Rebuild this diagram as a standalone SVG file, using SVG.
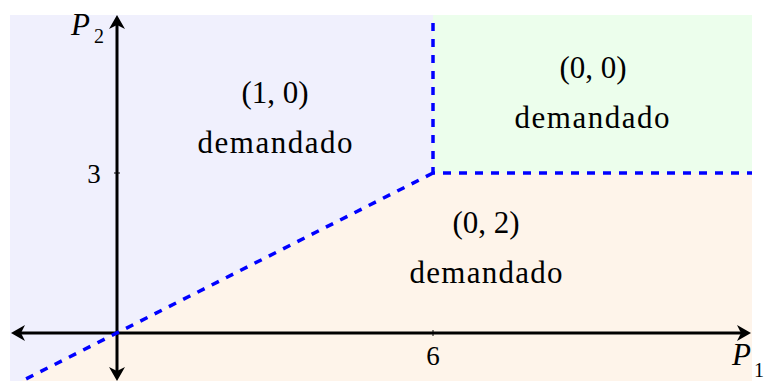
<svg xmlns="http://www.w3.org/2000/svg" width="764" height="381" viewBox="0 0 764 381">
<style>
.lbl{font-family:"Liberation Serif","Times New Roman",serif;font-size:31px;fill:#000;text-anchor:middle}
.tick{font-family:"Liberation Serif","Times New Roman",serif;font-size:27px;fill:#000;text-anchor:middle}
.math{font-family:"Liberation Serif","Times New Roman",serif;font-style:italic;font-size:31px;fill:#000}
.sub{font-family:"Liberation Serif","Times New Roman",serif;font-size:20px;fill:#000}
.axis{stroke:#000;stroke-width:3;fill:none}
.bound{stroke:#0000ff;stroke-width:3.5;fill:none;stroke-dasharray:8 8}
.tk{stroke:#000;stroke-width:1}
</style>
<defs>
<marker id="arr" markerUnits="userSpaceOnUse" viewBox="0 -9 16 18" markerWidth="16" markerHeight="18" refX="10" refY="0" orient="auto-start-reverse">
<path d="M14,0 L0,-8 L4,0 L0,8 Z" fill="#000"/>
</marker>
</defs>
<g id="regions">
<rect id="region-10" x="10" y="15" width="742" height="366" fill="#f0f0fd"/>
<rect id="region-00" x="433" y="15" width="319" height="158" fill="#ecfeec"/>
<polygon id="region-02" points="433,173 752,173 752,381 21,381" fill="#fef4ea"/>
</g>
<g id="connectors">
<line class="axis" x1="117" y1="377" x2="117" y2="19" marker-start="url(#arr)" marker-end="url(#arr)"/>
<line class="axis" x1="15" y1="333" x2="747" y2="333" marker-start="url(#arr)" marker-end="url(#arr)"/>
<line class="tk" x1="114" y1="173" x2="120" y2="173"/>
<line class="tk" x1="433" y1="330" x2="433" y2="336"/>
<polyline class="bound" points="433,23 433,173 752,173"/>
<line class="bound" x1="433" y1="173" x2="18" y2="383"/>
</g>
<g id="node-10">
<text class="lbl" x="275" y="103">(1, 0)</text>
<text class="lbl" x="275" y="153" textLength="155" lengthAdjust="spacing">demandado</text>
</g>
<g id="node-00">
<text class="lbl" x="593" y="78">(0, 0)</text>
<text class="lbl" x="592" y="128" textLength="155" lengthAdjust="spacing">demandado</text>
</g>
<g id="node-02">
<text class="lbl" x="486" y="233">(0, 2)</text>
<text class="lbl" x="486" y="283" textLength="153" lengthAdjust="spacing">demandado</text>
</g>
<g id="axis-labels">
<text class="math" x="71" y="35">P</text>
<text class="sub" x="94" y="43">2</text>
<text class="math" x="732" y="365">P</text>
<text class="sub" x="754" y="377">1</text>
<text class="tick" x="94" y="183">3</text>
<text class="tick" x="433" y="365">6</text>
</g>
</svg>
